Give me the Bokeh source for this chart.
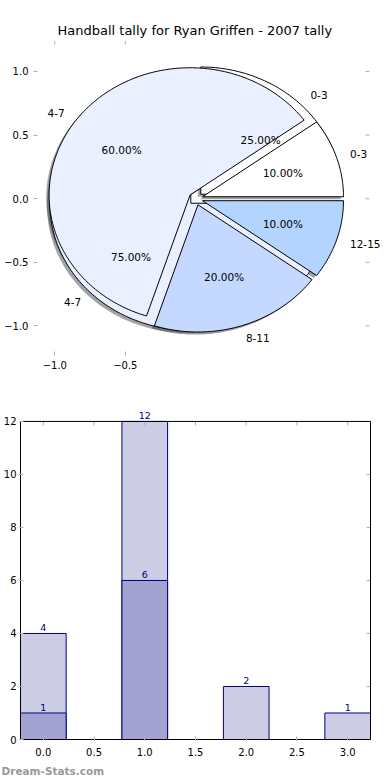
import math
from bokeh.plotting import figure
from bokeh.models import (Range1d, FixedTicker, Title, Label, CustomJSTickFormatter)
from bokeh.layouts import column
from bokeh.embed import file_html
from bokeh.resources import INLINE

# ---------------- data ----------------
TITLE = "Handball tally for Ryan Griffen - 2007 tally"
WATERMARK = "Dream-Stats.com"

pie_a_labels = ["0-3", "4-7", "8-11", "12-15"]
pie_a_values = [10, 60, 20, 10]
pie_b_labels = ["0-3", "4-7"]
pie_b_values = [25, 75]
pie_colors = ["#FFFFFF", "#EAF0FF", "#C5D8FF", "#B3D4FF"]
pie_xticks = [-1.0, -0.5]
pie_yticks = [-1.0, -0.5, 0.0, 0.5, 1.0]

bar_x = [0, 1, 2, 3]
bar_total = [4, 12, 2, 1]
bar_part = [1, 6, 0, 0]
bar_xticks = [0.0, 0.5, 1.0, 1.5, 2.0, 2.5, 3.0]
bar_yticks = [0, 2, 4, 6, 8, 10, 12]

# ---------------- style / layout ----------------
FONT = "DejaVu Sans"
EXPLODE = 0.05
SHADOW = 0.02
TICK_COLOR = "#b0b0b0"
NAVY = "#000080"
LIGHT = "#CCCCE5"
DARK = "#A3A3D1"
BAR_WIDTH = 0.45

# axes boxes (matplotlib-style limits) and the slightly larger drawing frames
PIE_XLIM = (-1.243, 1.2319)
PIE_YLIM = (-1.232, 1.2436)
PIE_FRAME_X = (-1.151, 1.381)
BAR_XLIM = (-0.225, 3.225)
BAR_YLIM = (0.0, 12.0)
BAR_FRAME_X = (-0.2348, 3.2348)
BAR_FRAME_Y = (-0.0376, 12.677)


def shade(hexc, f=0.3):
    r, g, b = int(hexc[1:3], 16), int(hexc[3:5], 16), int(hexc[5:7], 16)
    return "#%02x%02x%02x" % (int(r * f), int(g * f), int(b * f))


def wedges(values, labels, colors):
    total = float(sum(values))
    out = []
    t1 = 0.0
    for v, lab, col in zip(values, labels, colors):
        frac = v / total
        t2 = t1 + frac * 360.0
        mid = math.radians((t1 + t2) / 2.0)
        cx, cy = EXPLODE * math.cos(mid), EXPLODE * math.sin(mid)
        n = max(int(abs(t2 - t1)), 4)
        xs, ys = [cx], [cy]
        for i in range(n + 1):
            a = math.radians(t1 + (t2 - t1) * i / n)
            xs.append(cx + math.cos(a))
            ys.append(cy + math.sin(a))
        out.append(dict(xs=xs, ys=ys, color=col, label=lab,
                        pct="%.2f%%" % (frac * 100),
                        lx=cx + 1.1 * math.cos(mid), ly=cy + 1.1 * math.sin(mid),
                        px=cx + 0.6 * math.cos(mid), py=cy + 0.6 * math.sin(mid)))
        t1 = t2
    return out


wa = wedges(pie_a_values, pie_a_labels, pie_colors)
wb = wedges(pie_b_values, pie_b_labels, pie_colors)


def style_axis(ax, standoff):
    ax.axis_line_color = None
    ax.major_tick_in = 4
    ax.major_tick_out = 0
    ax.minor_tick_line_color = None
    ax.major_tick_line_color = TICK_COLOR
    ax.major_label_text_font = FONT
    ax.major_label_text_color = "#000000"
    ax.major_label_text_font_size = "10px"
    ax.major_label_standoff = standoff


def mirror_ticks(p, xticks, yticks, xlim, ylim):
    # inward tick marks on the top and right edges of the axes box
    p.ray(x=xticks, y=[ylim[1]] * len(xticks), length=4, length_units="screen",
          angle=-math.pi / 2, line_color=TICK_COLOR, line_width=1)
    p.ray(x=[xlim[1]] * len(yticks), y=yticks, length=4, length_units="screen",
          angle=math.pi, line_color=TICK_COLOR, line_width=1)


# ---------------- pie figure ----------------
p1 = figure(width=390, height=398, output_backend="svg", toolbar_location=None,
            x_range=Range1d(*PIE_FRAME_X), y_range=Range1d(*PIE_YLIM),
            min_border_left=33, min_border_right=0, min_border_top=40,
            min_border_bottom=43)
p1.frame_align = False
p1.grid.visible = False
p1.outline_line_color = None

p1.title = Title(text=TITLE, align="left", offset=24, text_font=FONT,
                 text_font_size="13px", text_font_style="normal",
                 text_color="#000000", standoff=6)

fmt1 = CustomJSTickFormatter(code="return tick.toFixed(1).replace('-', '\\u2212');")
p1.xaxis.ticker = FixedTicker(ticks=pie_xticks)
p1.yaxis.ticker = FixedTicker(ticks=pie_yticks)
p1.xaxis.formatter = fmt1
p1.yaxis.formatter = fmt1
style_axis(p1.xaxis[0], 5)
style_axis(p1.yaxis[0], 5)
mirror_ticks(p1, pie_xticks, pie_yticks, PIE_XLIM, PIE_YLIM)

# shadows
for group in (wb, wa):
    p1.patches(xs=[[x - SHADOW for x in w["xs"]] for w in group],
               ys=[[y - SHADOW for y in w["ys"]] for w in group],
               fill_color=[shade(w["color"]) for w in group], fill_alpha=0.5,
               line_color=None)
# wedges (second pie underneath, first pie on top)
for group in (wb, wa):
    p1.patches(xs=[w["xs"] for w in group], ys=[w["ys"] for w in group],
               fill_color=[w["color"] for w in group], line_color="black",
               line_width=1)

for w in wa + wb:
    p1.add_layout(Label(x=w["px"], y=w["py"], text=w["pct"], text_font=FONT,
                        text_font_size="10.5px", text_align="center",
                        text_baseline="middle", text_color="#000000"))
    p1.add_layout(Label(x=w["lx"], y=w["ly"], text=w["label"], text_font=FONT,
                        text_font_size="10.5px",
                        text_align="left" if w["lx"] > 0 else "right",
                        text_baseline="middle", text_color="#000000"))

# ---------------- bar figure ----------------
p2 = figure(width=390, height=382, output_backend="svg", toolbar_location=None,
            x_range=Range1d(*BAR_FRAME_X), y_range=Range1d(*BAR_FRAME_Y),
            min_border_left=18, min_border_right=19, min_border_top=5,
            min_border_bottom=39)
p2.frame_align = False
p2.grid.visible = False
p2.outline_line_color = None
p2.xaxis.ticker = FixedTicker(ticks=bar_xticks)
p2.yaxis.ticker = FixedTicker(ticks=bar_yticks)
p2.xaxis.formatter = CustomJSTickFormatter(code="return tick.toFixed(1);")
p2.yaxis.formatter = CustomJSTickFormatter(code="return tick.toFixed(0);")
style_axis(p2.xaxis[0], 7)
style_axis(p2.yaxis[0], 3)

p2.vbar(x=bar_x, top=bar_total, width=BAR_WIDTH, fill_color=LIGHT,
        line_color=NAVY, line_width=1)
part_x = [x for x, v in zip(bar_x, bar_part) if v > 0]
part_v = [v for v in bar_part if v > 0]
p2.vbar(x=part_x, top=part_v, width=BAR_WIDTH, fill_color=DARK,
        line_color=NAVY, line_width=1)
mirror_ticks(p2, bar_xticks, bar_yticks, BAR_XLIM, BAR_YLIM)
# axes box
p2.quad(left=[BAR_XLIM[0]], right=[BAR_XLIM[1]], bottom=[BAR_YLIM[0]],
        top=[BAR_YLIM[1]], fill_color=None, line_color="black", line_width=1)

for xs_, vs_ in ((bar_x, bar_total), (part_x, part_v)):
    for x, v in zip(xs_, vs_):
        p2.add_layout(Label(x=x, y=v, text=str(v), text_font=FONT,
                            text_font_size="9.5px", text_align="center",
                            text_baseline="bottom", y_offset=2, text_color=NAVY))

p2.add_layout(Title(text=WATERMARK, align="left", offset=-18, text_font=FONT,
                    text_font_size="10.5px", text_font_style="bold",
                    text_color="#999999", standoff=8), "below")

layout = column(p1, p2, spacing=0)
open("out.html", "w").write(file_html(layout, INLINE))
